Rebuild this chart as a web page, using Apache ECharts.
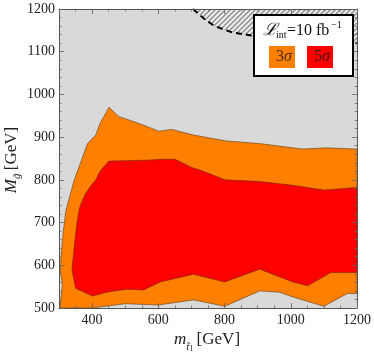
<!DOCTYPE html>
<html>
<head>
<meta charset="utf-8">
<script src="https://cdn.jsdelivr.net/npm/echarts@6/dist/echarts.min.js"></script>
<style>
  html, body { margin: 0; padding: 0; background: #fff; }
  #myChart { width: 374px; height: 356px; }
</style>
</head>
<body>
<div id="myChart"></div>
<script>
// tick labels
const xTicks = [400, 600, 800, 1000, 1200]
const yTicks = [500, 600, 700, 800, 900, 1000, 1100, 1200]

// 3 sigma region boundary [m_stop, M_gluino]
const sigma3 = [
  [303, 500], [310, 555], [304, 585], [306, 620], [313, 680], [321, 729], [331, 757],
  [346, 800], [366, 842], [386, 885], [411, 905], [424, 932], [451, 970], [481, 948],
  [501, 943], [556, 928], [601, 914], [641, 918], [706, 905], [806, 891], [906, 885],
  [1036, 872], [1106, 875], [1200, 872], [1200, 534], [1171, 534], [1100, 504],
  [1006, 526], [966, 537], [906, 540], [801, 504], [706, 519], [600, 507], [500, 510], [400, 500]
]

// 5 sigma region boundary
const sigma5 = [
  [350, 546], [339, 590], [343, 620], [347, 650], [354, 700], [362, 735], [378, 765], [395, 785],
  [411, 800], [426, 823], [451, 844], [506, 845], [566, 846], [611, 848], [651, 848],
  [701, 829], [726, 823], [801, 800], [906, 796], [1000, 788], [1101, 776], [1200, 782],
  [1200, 583], [1121, 583], [1051, 552], [1006, 561], [906, 591], [801, 561], [706, 579],
  [606, 561], [556, 542], [506, 544], [451, 538], [401, 528]
]

// excluded (hatched) region edge
const excluded = [
  [705, 1200], [740, 1176], [770, 1160], [820, 1146], [880, 1138], [950, 1132],
  [1050, 1126], [1130, 1122], [1200, 1120]
]

const serif = 'Liberation Serif'

// hatch pattern
let pat = document.createElement('canvas')
pat.width = 5
pat.height = 5
let ctx = pat.getContext('2d')
ctx.fillStyle = '#ececec'
ctx.fillRect(0, 0, 5, 5)
ctx.strokeStyle = '#8a8a8a'
ctx.lineWidth = 1.3
ctx.beginPath()
ctx.moveTo(-1, 6); ctx.lineTo(6, -1)
ctx.moveTo(-1, 1); ctx.lineTo(1, -1)
ctx.moveTo(4, 6); ctx.lineTo(6, 4)
ctx.stroke()

function polygon(points, style) {
  return function (params, api) {
    return {
      type: 'polygon',
      shape: { points: points.map(p => api.coord(p)) },
      style: style
    }
  }
}

const tickStyle = { color: '#666', width: 0.8 }
const frame = { show: true, lineStyle: { color: '#555', width: 1 } }
const fmt = v => String(v)

function xAx(pos, major, labels) {
  return {
    type: 'value', position: pos, min: 300, max: 1200, z: 10,
    interval: major ? undefined : 50,
    axisLine: major ? frame : { show: false },
    axisTick: major
      ? { show: true, inside: true, length: 5, lineStyle: tickStyle, customValues: xTicks }
      : { show: true, inside: true, length: 2.5, lineStyle: tickStyle },
    axisLabel: labels
      ? { show: true, customValues: xTicks, formatter: fmt, margin: 5, fontFamily: serif, fontSize: 14, color: '#222' }
      : { show: false },
    splitLine: { show: false }
  }
}

function yAx(pos, labels) {
  return {
    type: 'value', position: pos, min: 500, max: 1200, interval: 100, z: 10,
    axisLine: frame,
    axisTick: { show: true, inside: true, length: 5, lineStyle: tickStyle },
    minorTick: { show: true, splitNumber: 5, length: 2.5, lineStyle: tickStyle },
    axisLabel: labels
      ? { show: true, customValues: yTicks, formatter: fmt, margin: 4, fontFamily: serif, fontSize: 14, color: '#222' }
      : { show: false },
    splitLine: { show: false }
  }
}

function txt(x, y, s, size, opts) {
  return Object.assign({
    type: 'text', x: x, y: y, z: 101,
    style: Object.assign({ text: s, fontFamily: serif, fontSize: size, fill: '#111', align: 'left', verticalAlign: 'middle' }, opts || {})
  })
}

let myChart = echarts.init(document.getElementById('myChart'))
myChart.setOption({
  animation: false,
  grid: { left: 59, right: 15, top: 9, bottom: 48, show: true, backgroundColor: '#d9d9d9', borderWidth: 0 },
  xAxis: [xAx('bottom', true, true), xAx('bottom', false, false), xAx('top', true, false), xAx('top', false, false)],
  yAxis: [yAx('left', true), yAx('right', false)],
  series: [
    {
      type: 'custom', z: 2, data: [[300, 500]],
      renderItem: polygon(sigma3, { fill: '#ff8000', stroke: 'rgba(90,60,30,0.75)', lineWidth: 0.8 })
    },
    {
      type: 'custom', z: 3, data: [[300, 500]],
      renderItem: polygon(sigma5, { fill: '#ff0000', stroke: 'rgba(110,40,10,0.75)', lineWidth: 0.8 })
    },
    {
      type: 'custom', z: 3, data: [[300, 500]],
      renderItem: polygon(excluded.concat([[1200, 1200]]), { fill: { image: pat, repeat: 'repeat' } })
    },
    {
      type: 'custom', z: 4, data: [[300, 500]],
      renderItem: function (params, api) {
        return {
          type: 'polyline',
          shape: { points: excluded.map(p => api.coord(p)) },
          style: { stroke: '#000', lineWidth: 2, lineDash: [6, 4], fill: null }
        }
      }
    }
  ],
  graphic: [
    {
      type: 'text', x: 12, y: 160, rotation: Math.PI / 2, z: 50,
      style: {
        text: '{it|M}{sub|g̃} {n|[GeV]}',
        align: 'center', verticalAlign: 'middle',
        rich: {
          it: { fontFamily: serif, fontStyle: 'italic', fontSize: 17, lineHeight: 22, verticalAlign: 'middle', fill: '#222' },
          sub: { fontFamily: serif, fontStyle: 'italic', fontSize: 11, lineHeight: 22, verticalAlign: 'bottom', fill: '#222' },
          n: { fontFamily: serif, fontSize: 17, lineHeight: 22, verticalAlign: 'middle', fill: '#222' }
        }
      }
    },
    {
      type: 'text', x: 207, y: 340, z: 50,
      style: {
        text: '{it|m}{sub|t̃}{sub2|1} {n|[GeV]}',
        align: 'center', verticalAlign: 'middle',
        rich: {
          it: { fontFamily: serif, fontStyle: 'italic', fontSize: 17, lineHeight: 22, verticalAlign: 'middle', fill: '#222' },
          sub: { fontFamily: serif, fontStyle: 'italic', fontSize: 11, lineHeight: 22, verticalAlign: 'bottom', fill: '#222' },
          sub2: { fontFamily: serif, fontSize: 8, lineHeight: 26, verticalAlign: 'bottom', fill: '#222' },
          n: { fontFamily: serif, fontSize: 17, lineHeight: 22, verticalAlign: 'middle', fill: '#222' }
        }
      }
    },
    { type: 'rect', z: 100, shape: { x: 254, y: 15, width: 99, height: 61 }, style: { fill: '#fff', stroke: '#000', lineWidth: 2 } },
    txt(263, 31, 'ℒ', 17, { fontStyle: 'italic' }),
    txt(276, 35, 'int', 10),
    txt(287, 31, '=10 fb', 16),
    txt(331, 25, '−1', 10),
    { type: 'rect', z: 100, shape: { x: 269, y: 46, width: 26, height: 22 }, style: { fill: '#ff8000' } },
    { type: 'rect', z: 100, shape: { x: 307, y: 46, width: 26, height: 22 }, style: { fill: '#ff0000' } },
    txt(276, 57, '3', 16, { fill: '#4a2a10' }),
    txt(284, 57, 'σ', 16, { fill: '#4a2a10', fontStyle: 'italic' }),
    txt(314, 57, '5', 16, { fill: '#4a1010' }),
    txt(322, 57, 'σ', 16, { fill: '#4a1010', fontStyle: 'italic' })
  ]
})
</script>
</body>
</html>
